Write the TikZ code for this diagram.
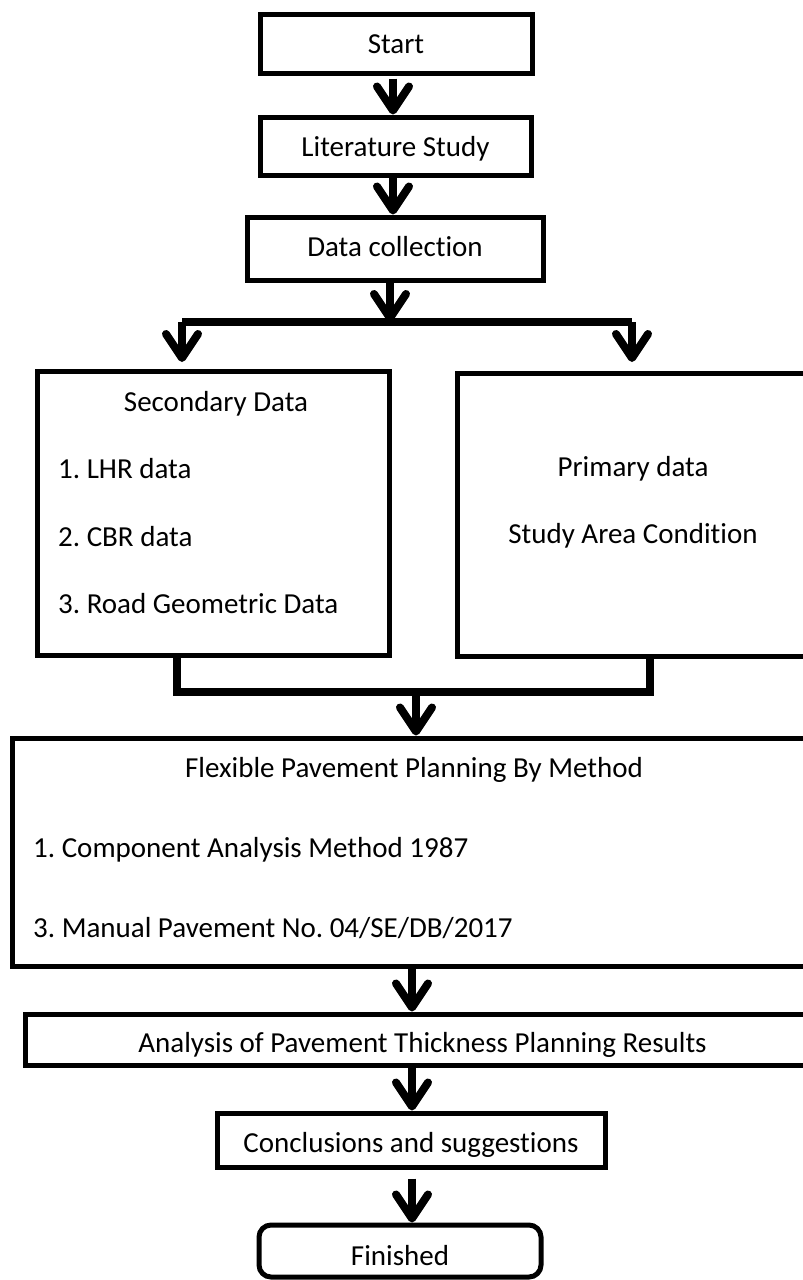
\documentclass[tikz,border=0pt]{standalone}
\usepackage{fontspec}
\setmainfont{Carlito}[Ligatures=NoCommon]
\usetikzlibrary{arrows.meta}
\frenchspacing
\begin{document}
\begin{tikzpicture}[x=1pt,y=-1pt,
  lbl/.style={font=\fontsize{29}{35}\selectfont},
  box/.style={draw, line width=5pt, inner sep=0pt, lbl, text height=19pt, text depth=0pt},
  txt/.style={inner sep=0pt, lbl},
  flow/.style={line width=8pt, -{Straight Barb[length=24pt,width=32pt,round]}},
  bar/.style={line width=8pt}]
  % page frame
  \fill[white] (0,0) rectangle (803,1280);
  \clip (0,0) rectangle (803,1280);

  % process boxes
  \node[box, minimum width=272pt, minimum height=59pt] (start) at (396,43.5) {Start};
  \node[box, minimum width=271pt, minimum height=58pt, text height=20pt] (lit) at (395.5,146) {Literature Study};
  \node[box, minimum width=296pt, minimum height=63pt, text height=16pt] (data) at (395,248.5) {Data collection};

  \node[box, minimum width=352pt, minimum height=284pt] (sec) at (213,513) {};
  \node[txt, anchor=base] (secT) at (216,411) {Secondary Data};
  \node[txt, anchor=base west] (sec1) at (58,478) {1. LHR data};
  \node[txt, anchor=base west] (sec2) at (58,546) {2. CBR data};
  \node[txt, anchor=base west] (sec3) at (58,613) {3. Road Geometric Data};

  \node[box, minimum width=363pt, minimum height=283pt] (prim) at (638.5,514.5) {};
  \node[txt, anchor=base] (primT) at (633,476) {Primary data};
  \node[txt, anchor=base] (prim1) at (633,543) {Study Area Condition};

  \node[box, minimum width=808pt, minimum height=228pt] (flex) at (416,852) {};
  \node[txt, anchor=base] (flexT) at (414,777) {Flexible Pavement Planning By Method};
  \node[txt, anchor=base west] (flex1) at (33,857) {1. Component Analysis Method 1987};
  \node[txt, anchor=base west] (flex3) at (33,937) {3. Manual Pavement No. 04/SE/DB/2017};

  \node[box, minimum width=795pt, minimum height=51pt, text height=25pt] (anal) at (422.5,1039.5) {Analysis of Pavement Thickness Planning Results};
  \node[box, minimum width=388pt, minimum height=54pt, text height=24pt] (concl) at (411,1140) {Conclusions and suggestions};
  \node[box, rounded corners=12pt, minimum width=282pt, minimum height=52pt, text height=28pt] (fin) at (400,1251) {Finished};

  % connector guide points
  \coordinate (topaxis) at (393,0);
  \coordinate (split) at (390,322);
  \coordinate (bl) at (182,322);
  \coordinate (br) at (632,322);
  \coordinate (secin) at (182,362);
  \coordinate (primin) at (632,362);
  \coordinate (ml) at (177,692);
  \coordinate (mr) at (650,692);
  \coordinate (mid) at (416,692);
  \coordinate (lowaxis) at (412,0);

  % connectors
  \draw[flow, shorten <=3pt] (topaxis |- start.south) -- (topaxis |- lit.north);
  \draw[flow] (topaxis |- lit.south) -- (topaxis |- data.north);
  \draw[flow] (split |- data.south) -- (split);
  \draw[bar] (bl) -- (br);
  \draw[flow] (bl) -- (secin);
  \draw[flow] (br) -- (primin);
  \draw[bar, line join=miter] (sec.south -| ml) -- (ml) -- (mr) -- (prim.south -| mr);
  \draw[flow] (mid) -- (mid |- flex.north);
  \draw[flow] (lowaxis |- flex.south) -- (lowaxis |- anal.north);
  \draw[flow] (lowaxis |- anal.south) -- (lowaxis |- concl.north);
  \draw[flow, shorten <=9pt] (lowaxis |- concl.south) -- (lowaxis |- fin.north);
\end{tikzpicture}
\end{document}
